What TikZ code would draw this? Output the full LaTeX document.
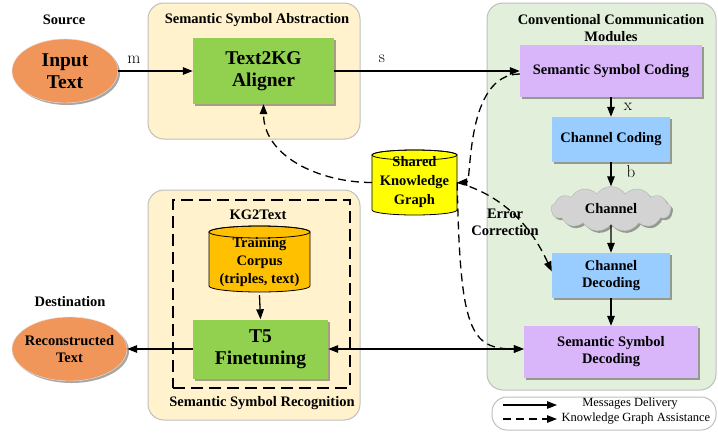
\documentclass[tikz,border=0pt]{standalone}
\usepackage{fontspec}
\newfontfamily\tnr{Liberation Serif}
\usetikzlibrary{arrows.meta,shapes.geometric,shapes.symbols,shadows,calc}
\definecolor{beige}{HTML}{FFF2CC}
\definecolor{palegreen}{HTML}{E2EFDA}
\definecolor{grpline}{HTML}{BFBFBF}
\definecolor{orangeE}{HTML}{F0965A}
\definecolor{greenB}{HTML}{92D050}
\definecolor{purpleB}{HTML}{D9B5FA}
\definecolor{blueB}{HTML}{99CCFF}
\definecolor{kgyellow}{HTML}{FFFF00}
\definecolor{corpusC}{HTML}{FFC000}
\definecolor{cloudC}{HTML}{D3D3D3}
\begin{document}
\begin{tikzpicture}[x=1pt,y=1pt,
  lbl/.style={font=\tnr\bfseries\fontsize{14.5}{17}\selectfont, align=center, inner sep=1pt},
  big/.style={font=\tnr\bfseries\fontsize{19.5}{22}\selectfont, align=center, inner sep=1pt},
  legt/.style={font=\tnr\fontsize{12.5}{14}\selectfont, inner sep=0pt},
  sym/.style={font=\fontsize{17}{19}\selectfont, inner sep=0pt},
  grp/.style={draw=grpline, line width=1pt, rounded corners=16pt},
  shd/.style={drop shadow={shadow xshift=2pt,shadow yshift=-2pt,opacity=0.35,fill=black}},
  msg/.style={line width=1.3pt, -{Triangle[length=10pt,width=7.5pt]}},
  kga/.style={msg, dash pattern=on 8pt off 5pt},
  blk/.style={shd, inner sep=1pt}
]
\useasboundingbox (0,0) rectangle (718,-432);
\fill[white] (0,0) rectangle (718,-432);

% group backgrounds
\node[grp, fill=beige, minimum width=212, minimum height=136] (abs) at (254,-71) {};
\node[grp, fill=beige, minimum width=212, minimum height=230] (rec) at (254,-305) {};
\node[grp, fill=palegreen, minimum width=229, minimum height=387] (conv) at (601.5,-196.5) {};
\node[draw, line width=2pt, dash pattern=on 12pt off 6pt, minimum width=177, minimum height=188] (kgtbox) at (261.5,-294) {};

% titles
\node[lbl] (srcl) at (64,-20) {Source};
\node[lbl] (absl) at (257,-20) {Semantic Symbol Abstraction};
\node[lbl] (convl) at (611,-28.5) {Conventional Communication\\Modules};
\node[lbl] (k2tl) at (258,-215) {KG2Text};
\node[lbl] (recl) at (262,-403) {Semantic Symbol Recognition};
\node[lbl] (dstl) at (70,-302) {Destination};

% cylinders
\filldraw[fill=kgyellow, line width=0.8pt] (372,-155) -- (372,-210) arc[start angle=180,end angle=360,x radius=42.5,y radius=5] -- (457,-155) arc[start angle=0,end angle=180,x radius=42.5,y radius=5] -- cycle;
\draw[line width=0.8pt] (414.5,-155) ellipse[x radius=42.5, y radius=5];
\node[lbl, minimum width=85, minimum height=65, font=\tnr\bfseries\fontsize{14.5}{19}\selectfont] (kg) at (414.5,-182.5) {Shared\\Knowledge\\Graph};

\filldraw[fill=corpusC, line width=0.8pt] (209,-232) -- (209,-286) arc[start angle=180,end angle=360,x radius=50.5,y radius=6] -- (310,-232) arc[start angle=0,end angle=180,x radius=50.5,y radius=6] -- cycle;
\draw[line width=0.8pt] (259.5,-232) ellipse[x radius=50.5, y radius=6];
\node[lbl, minimum width=101, minimum height=66, font=\tnr\bfseries\fontsize{14.5}{18}\selectfont] (corpus) at (259.5,-262) {Training\\Corpus\\(triples, text)};

% blocks
\node[ellipse, fill=orangeE, draw=white!80!gray, shd, minimum width=106, minimum height=64] (in) at (65,-71) {};
\node[big] (intxt) at (in) {Input\\Text};
\node[blk, fill=greenB, big, minimum width=141, minimum height=66] (al) at (263.5,-71) {Text2KG\\Aligner};
\node[blk, fill=purpleB, lbl, minimum width=182, minimum height=52] (ssc) at (611,-71) {Semantic Symbol Coding};
\node[blk, fill=blueB, lbl, minimum width=118, minimum height=45] (cc) at (611,-139.5) {Channel Coding};
\node[cloud, cloud puffs=13, cloud puff arc=110, aspect=2.6, fill=cloudC, draw=cloudC!85!black, shd, lbl, minimum width=120, minimum height=45, inner sep=0pt] (ch) at (611,-209) {Channel};
\node[blk, fill=blueB, lbl, minimum width=118, minimum height=45] (cd) at (611,-275.5) {Channel\\Decoding};
\node[blk, fill=purpleB, lbl, minimum width=174, minimum height=52] (ssd) at (611,-352) {Semantic Symbol\\Decoding};
\node[blk, fill=greenB, big, minimum width=135, minimum height=59] (t5) at (260.5,-349) {T5\\Finetuning};
\node[ellipse, fill=orangeE, draw=white!80!gray, shd, minimum width=115, minimum height=64] (out) at (69.5,-349) {};
\node[lbl] (outtxt) at (out) {Reconstructed\\Text};

% message arrows
\draw[msg] (in.east) -- (al.west);
\node[sym] (ml) at (134,-60) {m};
\draw[msg] (al.east) -- (ssc.west);
\node[sym] (sl) at (382,-59) {s};
\draw[msg] (ssc.south) -- (cc.north);
\node[sym] (xl) at (628,-107) {x};
\draw[msg] (cc.south) -- (ch.north);
\node[sym] (bl) at (631,-172) {b};
\draw[msg] (ch.south) -- (cd.north);
\draw[msg] (cd.south) -- (ssd.north);
\draw[msg] (corpus.south) -- (t5.north);
\draw[msg] (t5.west) -- (out.east);
\coordinate (ssdin) at (t5.east -| ssd.west);
\draw[msg, {Triangle[length=10pt,width=7.5pt]}-{Triangle[length=10pt,width=7.5pt]}] (t5.east) -- (ssdin);

% knowledge graph assistance
\draw[kga] (kg.west) to[out=180,in=-90] (al.south);
\draw[kga] ([yshift=-3pt]ssc.west) .. controls (465,-74) and (472,-182) .. (kg.east);
\draw[kga] (kg.east) .. controls (460,-330) and (470,-349) .. (ssdin);
\draw[kga] (kg.east) .. controls (505,-196) and (532,-228) .. ([yshift=4pt]cd.west);
\node[lbl] (ecl) at (505,-222) {Error\\Correction};

% legend
\node[draw=grpline, line width=1pt, rounded corners=15pt, minimum width=224, minimum height=33, fill=white] (leg) at (604,-413.5) {};
\coordinate (l1a) at (503,-405);
\coordinate (l1b) at (557,-405);
\coordinate (l2a) at (503,-419);
\coordinate (l2b) at (557,-419);
\draw[msg] (l1a) -- (l1b);
\draw[kga] (l2a) -- (l2b);
\node[legt] (leg1) at (630,-404) {Messages Delivery};
\node[legt] (leg2) at (636,-418.5) {Knowledge Graph Assistance};
\end{tikzpicture}
\end{document}
